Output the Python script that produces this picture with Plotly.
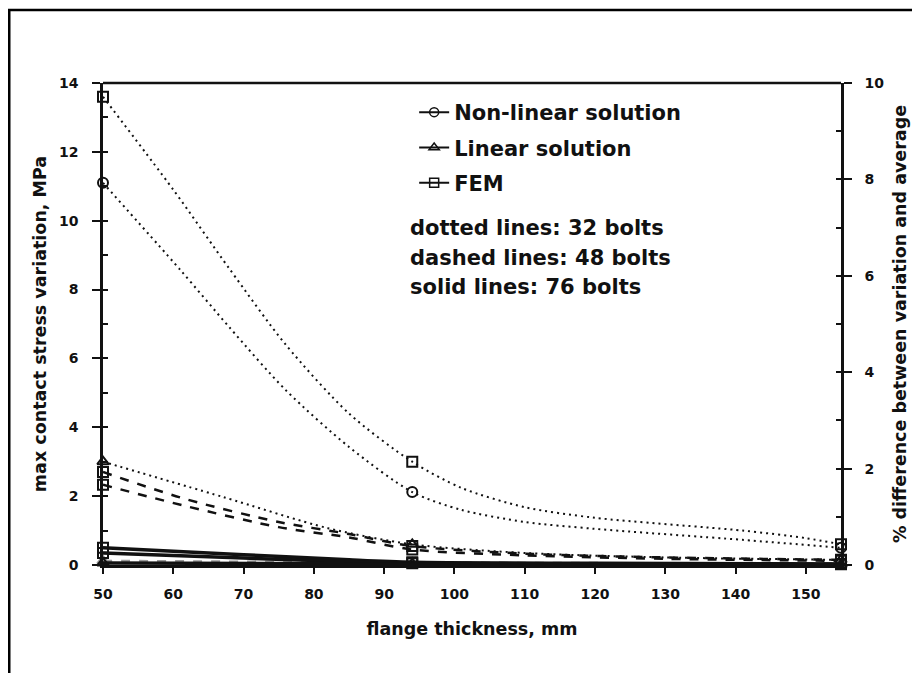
import plotly.graph_objects as go

# ---- data ----
marker_x = [50, 94, 155]          # flange thicknesses where markers are drawn

x_fem_32 = [50, 60, 68, 76, 85, 94, 101, 110, 120, 141, 150, 155]
fem_32 = [13.6, 10.9, 8.6, 6.4, 4.4, 3.0, 2.24, 1.68, 1.37, 1.0, 0.78, 0.6]

x_nonlin_32 = [50, 61, 68, 76, 85, 94, 101, 110, 120, 141, 155]
nonlin_32 = [11.1, 8.57, 6.9, 5.08, 3.43, 2.12, 1.6, 1.25, 1.05, 0.73, 0.5]

x_lin_32 = [50, 67, 82, 94, 110, 130, 155]
lin_32 = [3.0, 1.98, 1.07, 0.6, 0.35, 0.22, 0.15]

x_48 = [50, 62, 75, 85, 94, 110, 130, 155]
fem_48 = [2.7, 1.9, 1.25, 0.9, 0.55, 0.33, 0.22, 0.15]
nonlin_48 = [2.33, 1.7, 1.1, 0.8, 0.45, 0.28, 0.18, 0.12]
x_lin_48 = [50, 94, 155]
lin_48 = [0.12, 0.07, 0.04]

x_76 = [50, 70, 85, 94, 120, 155]
fem_76 = [0.5, 0.3, 0.15, 0.08, 0.05, 0.03]
nonlin_76 = [0.35, 0.2, 0.1, 0.05, 0.03, 0.02]
x_lin_76 = [50, 94, 155]
lin_76 = [0.06, 0.03, 0.01]

legend_names = ["Non-linear solution", "Linear solution", "FEM"]
legend_symbols = ["circle-open", "triangle-up-open", "square-open"]
notes = ["dotted lines: 32 bolts", "dashed lines: 48 bolts", "solid lines: 76 bolts"]

FONT = "DejaVu Sans"
BLACK = "#111111"

fig = go.Figure()

def add_series(xs, ys, dash, width, symbol, color=BLACK, msize=10):
    fig.add_trace(go.Scatter(
        x=xs, y=ys, mode="lines",
        line=dict(color=color, width=width, dash=dash, shape="spline", smoothing=0.8),
        showlegend=False, hoverinfo="skip"))
    lookup = dict(zip(xs, ys))
    mx = [x for x in marker_x if x in lookup]
    fig.add_trace(go.Scatter(
        x=mx, y=[lookup[x] for x in mx], mode="markers",
        marker=dict(symbol=symbol, size=msize, color=color,
                    line=dict(color=color, width=2)),
        showlegend=False, hoverinfo="skip", cliponaxis=False))

dotted = "2px,4px"
dashed = "9px,9px"
# 32 bolts (dotted)
add_series(x_fem_32, fem_32, dotted, 2, "square-open")
add_series(x_nonlin_32, nonlin_32, dotted, 2, "circle-open")
add_series(x_lin_32, lin_32, dotted, 2, "triangle-up-open")
# 48 bolts (dashed)
add_series(x_48, fem_48, dashed, 2.5, "square-open")
add_series(x_48, nonlin_48, dashed, 2.5, "square-open")
add_series(x_lin_48, lin_48, dashed, 2.5, "triangle-up-open", color="#9a9a9a")
# 76 bolts (solid)
add_series(x_76, fem_76, "solid", 3.5, "square-open")
add_series(x_76, nonlin_76, "solid", 3.5, "square-open")
add_series(x_lin_76, lin_76, "solid", 3.5, "triangle-up-open")

# legend entries
for i, (name, sym) in enumerate(zip(legend_names, legend_symbols)):
    fig.add_trace(go.Scatter(
        x=[None], y=[None], mode="lines+markers", name=name, legendgroup=f"g{i}",
        line=dict(color=BLACK, width=2),
        marker=dict(symbol=sym, size=9, color=BLACK, line=dict(color=BLACK, width=1.5))))

# secondary axis dummy trace so y2 is drawn
fig.add_trace(go.Scatter(x=[None], y=[None], yaxis="y2", showlegend=False))

for i, t in enumerate(notes):
    fig.add_annotation(text=t, xref="paper", yref="paper",
                       x=(409 - 103) / 740, y=1 - (228 + i * 29.5 - 83) / 482,
                       xanchor="left", yanchor="middle", showarrow=False,
                       font=dict(family=FONT, size=21, color=BLACK, weight="bold"))

# outer frame
fig.add_shape(type="rect", xref="paper", yref="paper",
              x0=(9 - 103) / 740, x1=(930 - 103) / 740,
              y0=1 - (690 - 83) / 482, y1=1 - (10 - 83) / 482,
              line=dict(color="black", width=2.5), fillcolor="rgba(0,0,0,0)", layer="below")

tickfont = dict(family=FONT, size=14, color=BLACK, weight="bold")
titlefont = dict(family=FONT, size=17.5, color=BLACK, weight="bold")
axis_common = dict(showline=True, linecolor=BLACK, linewidth=2.5, showgrid=False,
                   zeroline=False, ticks="outside", tickcolor=BLACK, tickwidth=2,
                   tickfont=tickfont)

fig.update_layout(
    width=912, height=665,
    margin=dict(l=95, r=77, t=75, b=108),
    paper_bgcolor="white", plot_bgcolor="white",
    xaxis=dict(range=[50, 155], dtick=10, tick0=50, ticklen=6, ticklabelstandoff=8,
               title=dict(text="flange thickness, mm", standoff=23, font=titlefont),
               **axis_common),
    yaxis=dict(range=[0, 14], dtick=2, ticklen=8, ticklabelstandoff=11,
               minor=dict(dtick=1, ticks="inside", ticklen=5, tickcolor=BLACK, tickwidth=2),
               title=dict(text="max contact stress variation, MPa", standoff=8, font=titlefont),
               **axis_common),
    yaxis2=dict(range=[0, 10], dtick=2, ticklen=8, overlaying="y", side="right",
                ticklabelstandoff=10,
                minor=dict(dtick=1, ticks="inside", ticklen=5, tickcolor=BLACK, tickwidth=2),
                title=dict(text="% difference between variation and average", standoff=11,
                           font=titlefont),
                **axis_common),
    legend=dict(x=(415 - 103) / 740, y=1 - 9 / 482, xanchor="left", yanchor="top",
                bgcolor="rgba(0,0,0,0)", itemwidth=30, tracegroupgap=5,
                font=dict(family=FONT, size=21, color=BLACK, weight="bold")),
)
# top border of plot area
fig.add_shape(type="line", xref="paper", yref="paper", x0=0, x1=1, y0=1, y1=1,
              line=dict(color=BLACK, width=2.5))

fig.write_html("out.html")
